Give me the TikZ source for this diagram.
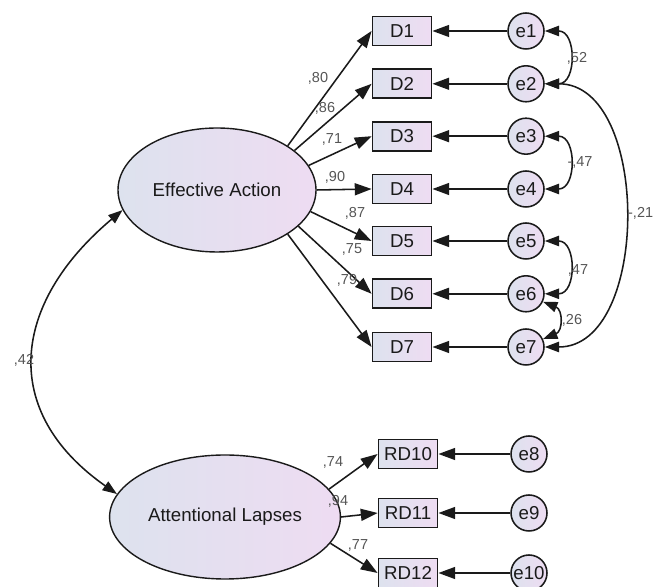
\documentclass[tikz,border=0pt]{standalone}
\usepackage{fontspec}
\setmainfont{Liberation Sans}
\definecolor{smLeft}{HTML}{DDE2EE}
\definecolor{smRight}{HTML}{EEDCF2}
\definecolor{smInk}{HTML}{1A1A1A}
\definecolor{smMuted}{HTML}{555555}
\usepackage{tikz}
\usetikzlibrary{arrows.meta,shapes.geometric}

\tikzset{
  latent/.style={ellipse, draw=smInk, line width=1pt, left color=smLeft, right color=smRight,
    minimum width=4.95cm, minimum height=3.1cm, text=smInk, font=\fontsize{13.3}{15}\selectfont},
  indicator/.style={rectangle, draw=smInk, line width=1.3pt, left color=smLeft, right color=smRight,
    minimum width=1.475cm, minimum height=0.725cm, inner sep=0pt, text=smInk, font=\fontsize{13.3}{15}\selectfont},
  errterm/.style={circle, draw=smInk, line width=1.1pt, left color=smLeft, right color=smRight,
    minimum size=0.9cm, inner sep=0pt, text=smInk, font=\fontsize{13.3}{15}\selectfont},
  loading/.style={draw=smInk, line width=1.1pt, -{Triangle[length=0.42cm,width=0.3cm]}},
  covar/.style={draw=smInk, line width=1.1pt,
    {Triangle[length=0.36cm,width=0.26cm]}-{Triangle[length=0.36cm,width=0.26cm]}},
  est/.style={text=smMuted, inner sep=1pt, font=\fontsize{10.3}{12}\selectfont}
}

\begin{document}
\begin{tikzpicture}
  \useasboundingbox (0,0) rectangle (16.375,14.675);

  % latent factors
  \node[latent] (EA) at (5.425,9.925) {Effective Action};
  \node[latent] (AL) at (5.625,1.75) {Attentional Lapses};

  % observed items
  \node[indicator] (D1) at (10.05,13.9) {D1};
  \node[indicator] (D2) at (10.05,12.58) {D2};
  \node[indicator] (D3) at (10.05,11.27) {D3};
  \node[indicator] (D4) at (10.05,9.95) {D4};
  \node[indicator] (D5) at (10.05,8.65) {D5};
  \node[indicator] (D6) at (10.05,7.33) {D6};
  \node[indicator] (D7) at (10.05,6.0) {D7};
  \node[indicator] (RD10) at (10.2,3.325) {RD10};
  \node[indicator] (RD11) at (10.2,1.85) {RD11};
  \node[indicator] (RD12) at (10.2,0.35) {RD12};

  % error terms
  \node[errterm] (e1) at (13.15,13.9) {e1};
  \node[errterm] (e2) at (13.15,12.58) {e2};
  \node[errterm] (e3) at (13.15,11.27) {e3};
  \node[errterm] (e4) at (13.15,9.95) {e4};
  \node[errterm] (e5) at (13.15,8.65) {e5};
  \node[errterm] (e6) at (13.15,7.33) {e6};
  \node[errterm] (e7) at (13.15,6.0) {e7};
  \node[errterm] (e8) at (13.225,3.325) {e8};
  \node[errterm] (e9) at (13.225,1.85) {e9};
  \node[errterm] (e10) at (13.225,0.35) {e10};

  % factor loadings
  \draw[loading] (EA.32) -- (D1.west);
  \draw[loading] (EA.27) -- (D2.west);
  \draw[loading] (EA.15) -- (D3.west);
  \draw[loading] (EA.east) -- (D4.west);
  \draw[loading] (EA.-13) -- (D5.west);
  \draw[loading] (EA.-24) -- (D6.west);
  \draw[loading] (EA.-32) -- (D7.west);
  \draw[loading] (AL.15) -- (RD10.west);
  \draw[loading] (AL.east) -- (RD11.west);
  \draw[loading] (AL.-14) -- (RD12.west);

  % residuals
  \draw[loading] (e1) -- (D1);
  \draw[loading] (e2) -- (D2);
  \draw[loading] (e3) -- (D3);
  \draw[loading] (e4) -- (D4);
  \draw[loading] (e5) -- (D5);
  \draw[loading] (e6) -- (D6);
  \draw[loading] (e7) -- (D7);
  \draw[loading] (e8) -- (RD10);
  \draw[loading] (e9) -- (RD11);
  \draw[loading] (e10) -- (RD12);

  % covariances
  \draw[covar] (EA.192) to[out=220, in=145, looseness=1.3] (AL.168);
  \draw[covar] (e1.east) .. controls +(0.8,0) and +(0.8,0) .. (e2.east);
  \draw[covar] (e3.east) .. controls +(0.8,0) and +(0.8,0) .. (e4.east);
  \draw[covar] (e5.east) .. controls +(0.8,0) and +(0.8,0) .. (e6.east);
  \draw[covar] (e6.-25) .. controls +(0.5,-0.2) and +(0.5,0.2) .. (e7.25);
  \draw[covar] (e2.east) .. controls +(2.65,0) and +(2.65,0) .. (e7.east);

  % estimates
  \node[est] (wD1) at (7.95,12.725) {,80};
  \node[est] (wD2) at (8.125,11.975) {,86};
  \node[est] (wD3) at (8.3,11.2) {,71};
  \node[est] (wD4) at (8.375,10.25) {,90};
  \node[est] (wD5) at (8.875,9.35) {,87};
  \node[est] (wD6) at (8.8,8.45) {,75};
  \node[est] (wD7) at (8.675,7.675) {,79};
  \node[est] (wRD10) at (8.325,3.125) {,74};
  \node[est] (wRD11) at (8.45,2.15) {,94};
  \node[est] (wRD12) at (8.95,1.05) {,77};
  \node[est] (c12) at (14.425,13.225) {,52};
  \node[est] (c34) at (14.5,10.625) {-,47};
  \node[est, anchor=east] (c27) at (16.37,9.35) {-,21};
  \node[est] (c56) at (14.45,7.925) {,47};
  \node[est] (c67) at (14.3,6.675) {,26};
  \node[est] (cEA) at (0.6,5.675) {,42};
\end{tikzpicture}
\end{document}
